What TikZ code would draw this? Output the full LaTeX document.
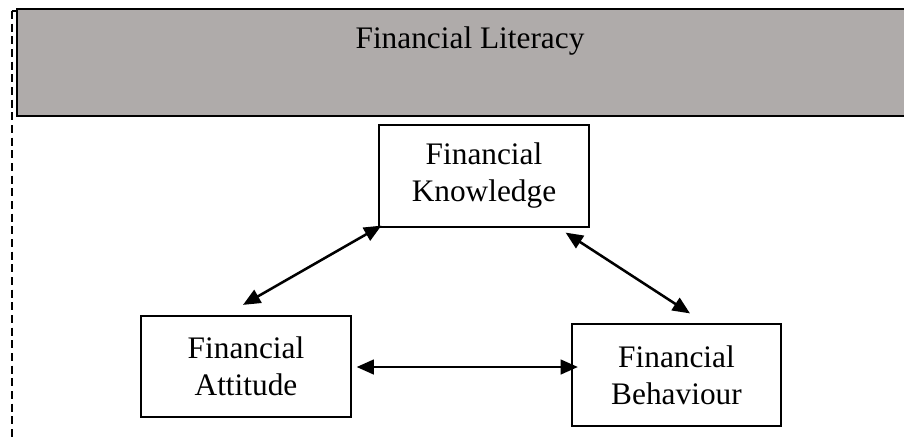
\documentclass[tikz,border=0pt]{standalone}
\usepackage{fontspec}
\setmainfont{Liberation Serif}
\usetikzlibrary{arrows.meta}

\definecolor{bannergray}{RGB}{175,171,170}

\tikzset{
	concept/.style = {draw, line width=1.4pt, minimum width=157pt, minimum height=76pt,
		inner sep=0pt, align=center, font=\fontsize{23.5}{27.75}\selectfont},
	link/.style = {line width=1.9pt, {Triangle[length=13pt,width=11pt]}-{Triangle[length=13pt,width=11pt]}}
}

\begin{document}
\begin{tikzpicture}[x=0.75pt, y=-0.75pt]
	\useasboundingbox (0,0) rectangle (904,437);
	% banner along the top
	\draw[fill=bannergray, line width=1.8pt] (17,9) rectangle (912,116);
	\node[anchor=base, font=\fontsize{23.5}{27.75}\selectfont] (lit) at (470,48) {Financial Literacy};
	% dashed frame on the left
	\draw[line width=1.2pt, dash pattern=on 6pt off 3.5pt] (11.7,11) -- (11.7,440);
	\draw[line width=1.2pt] (11.7,11) -- (17,11);

	\node[concept] (know) at (484,176)   {Financial\\Knowledge};
	\node[concept] (att)  at (246,366.5) {Financial\\Attitude};
	\node[concept] (beh)  at (676.5,375) {Financial\\Behaviour};

	\draw[link] ([shift={(3,-2)}]know.south west) -- ([shift={(-3,-10)}]att.north);
	\draw[link] ([shift={(-24,5)}]know.south east) -- ([shift={(13.5,-10)}]beh.north);
	\draw[link] ([shift={(5,0.5)}]att.east) -- ([shift={(7,-8)}]beh.west);
\end{tikzpicture}
\end{document}
